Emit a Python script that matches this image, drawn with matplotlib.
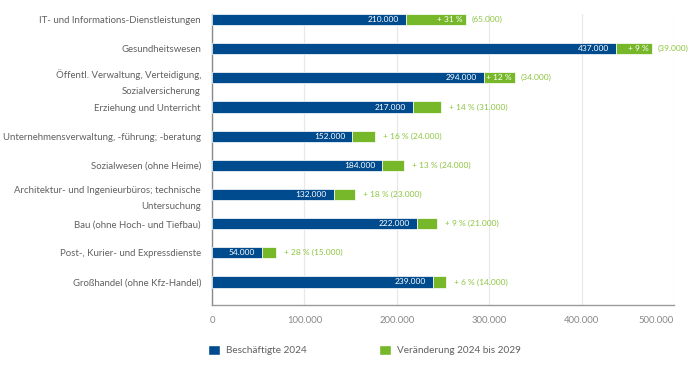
import matplotlib
matplotlib.use('Agg')
import matplotlib.pyplot as plt
from matplotlib.patches import Patch
from matplotlib.ticker import FuncFormatter

plt.rcParams['font.family'] = ['Lato', 'DejaVu Sans']

# Daten
branchen = ['IT- und Informations-Dienstleistungen',
            'Gesundheitswesen',
            'Öffentl. Verwaltung, Verteidigung,\nSozialversicherung',
            'Erziehung und Unterricht',
            'Unternehmensverwaltung, -führung; -beratung',
            'Sozialwesen (ohne Heime)',
            'Architektur- und Ingenieurbüros; technische\nUntersuchung',
            'Bau (ohne Hoch- und Tiefbau)',
            'Post-, Kurier- und Expressdienste',
            'Großhandel (ohne Kfz-Handel)']
beschaeftigte_2024 = [210000, 437000, 294000, 217000, 152000,
                      184000, 132000, 222000, 54000, 239000]
veraenderung = [65000, 39000, 34000, 31000, 24000,
                24000, 23000, 21000, 15000, 14000]
prozent = [31, 9, 12, 14, 16, 13, 18, 9, 28, 6]

BLAU = '#004b8d'
GRUEN = '#76b82a'
GRUEN_TXT = '#8cc63f'
GRAU = '#606060'

def de(v):
    return f'{v:,.0f}'.replace(',', '.')

fig = plt.figure(figsize=(7, 3.72), dpi=100)
ax = fig.add_axes([212/700, 1 - 305/372, 462/700, 291/372])

y = list(range(len(branchen)))
ax.barh(y, beschaeftigte_2024, height=0.38, color=BLAU,
        edgecolor='white', linewidth=0.5, zorder=3)
ax.barh(y, veraenderung, left=beschaeftigte_2024, height=0.38, color=GRUEN,
        edgecolor='white', linewidth=0.5, zorder=3)

# Beschriftungen
px = 500000 / 462  # Datenwert pro Pixel
for i, (b, v, p) in enumerate(zip(beschaeftigte_2024, veraenderung, prozent)):
    ax.text(b - 7 * px, i, de(b), ha='right', va='center',
            color='white', fontsize=6, zorder=4)
    ende = b + v
    if v >= 34000:
        ax.text(ende - 3 * px, i, f'+ {p} %', ha='right', va='center',
                color='white', fontsize=6, zorder=4)
        ax.text(ende + 6 * px, i, f'({de(v)})', ha='left', va='center',
                color=GRUEN_TXT, fontsize=6, zorder=4)
    else:
        ax.text(ende + 8 * px, i, f'+ {p} % ({de(v)})', ha='left', va='center',
                color=GRUEN_TXT, fontsize=6, zorder=4)

ax.set_xlim(0, 500000)
ax.set_ylim(len(branchen) - 1 + 0.79, -0.19)
ax.set_yticks(y)
ax.set_yticklabels(branchen, fontsize=6.9, color=GRAU, linespacing=2.0)
ax.set_xticks(range(0, 500001, 100000))
ax.xaxis.set_major_formatter(FuncFormatter(lambda v, _: de(v)))
ax.tick_params(axis='x', labelsize=6.8, colors='#888888', length=0, pad=8)
ax.tick_params(axis='y', length=0, pad=8)
ax.get_xticklabels()[-1].set_ha('right')
ax.grid(True, axis='x', color='#e8e8e8', linewidth=0.9, zorder=0)
for s in ['top', 'right']:
    ax.spines[s].set_visible(False)
ax.spines['left'].set_color('#8a8a8a')
ax.spines['bottom'].set_color('#9a9a9a')
ax.spines['left'].set_linewidth(1.0)
ax.spines['bottom'].set_linewidth(1.0)

handles = [Patch(facecolor=BLAU, edgecolor='white', label='Beschäftigte 2024'),
           Patch(facecolor=GRUEN, edgecolor='white', label='Veränderung 2024 bis 2029')]
fig.legend(handles=handles, loc='center left', bbox_to_anchor=(199/700, 1 - 350/372),
           ncol=2, frameon=False, fontsize=7.2, labelcolor=GRAU,
           handlelength=1.2, handleheight=1.2, handletextpad=0.6,
           columnspacing=7.2)

plt.savefig('out.png', dpi=100)
